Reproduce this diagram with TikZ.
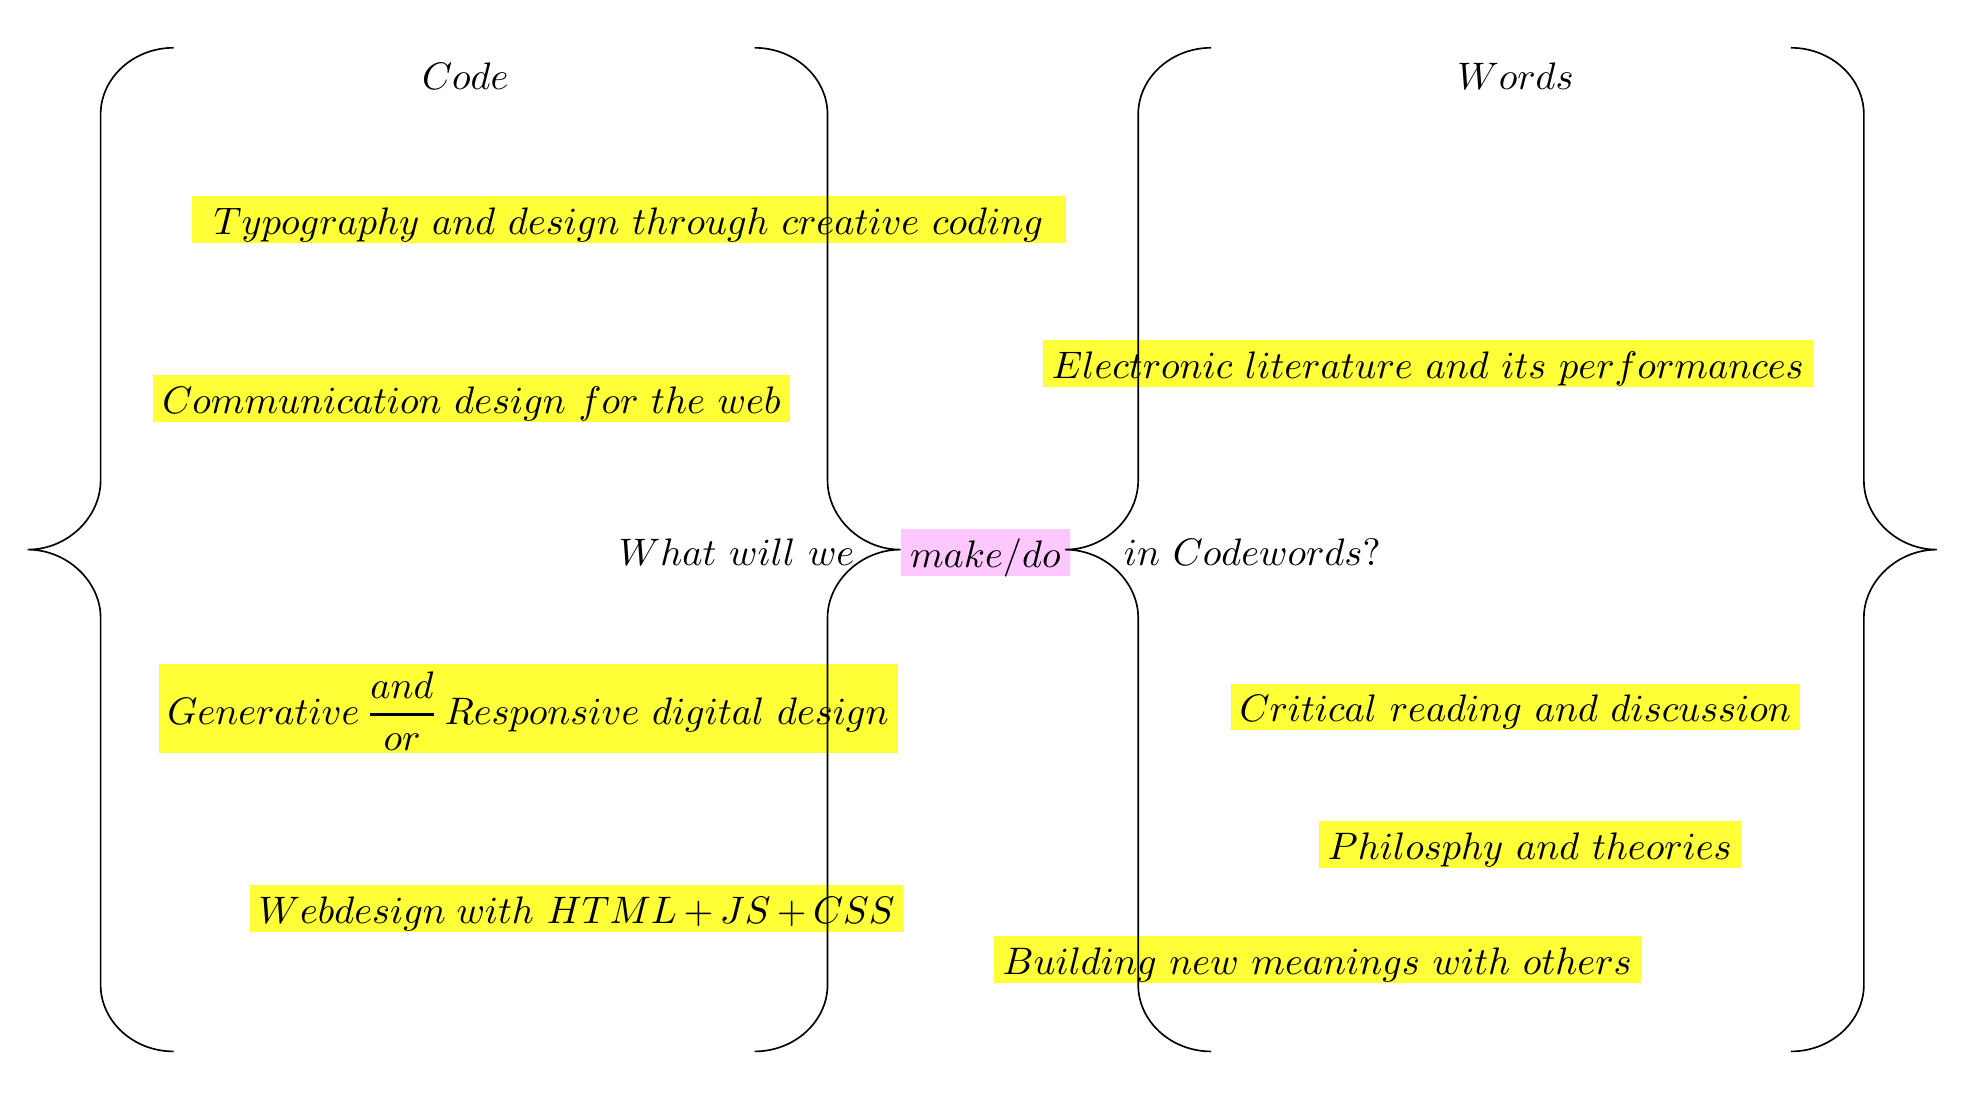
\RequirePackage{fix-cm}
\documentclass[tikz,border=0pt]{standalone}
\usepackage{amsmath}
\definecolor{hlyellow}{RGB}{255,255,56}
\definecolor{hlpink}{RGB}{255,199,255}

\begin{document}
\begin{tikzpicture}[x=0.012cm, y=-0.012cm, font=\fontsize{10.4}{12.5}\selectfont]
\tikzstyle{hl}=[fill=hlyellow, inner xsep=0.084cm, inner ysep=0pt, text height=0.366cm, text depth=0.078cm]
\tikzstyle{pinkhl}=[hl, fill=hlpink]
\tikzstyle{plain}=[inner sep=0pt]
\tikzstyle{bracket}=[line width=0.45pt]
  \useasboundingbox (0,0) rectangle (1568,874.6);

  % headings
  \node[plain, anchor=base] (code) at (370,71) {$Code$};
  \node[plain, anchor=base] (words) at (1205,71) {$Words$};

  % code side
  \node[hl, minimum width=8.33cm] (typo) at (500,174.5) {$Typography\ and\ design\ through\ creative\ coding$};
  \node[hl] (comm) at (375,317) {$Communication\ design\ for\ the\ web$};
  \node[hl, text height=0.576cm, text depth=0.276cm] (gen) at (420,563.5) {$Generative\,\genfrac{}{}{0.8pt}{0}{and}{or}\,Responsive\ digital\ design$};
  \node[hl] (web) at (458.5,722.5) {$Webdesign\;with\ HTML\,{+}\,JS\,{+}\,CSS$};

  % middle line
  \node[plain, anchor=base east] (what) at (680,450) {$What\ will\ we$};
  \node[pinkhl] (make) at (783.5,439.5) {$make/do$};
  \node[plain, anchor=base west] (cw) at (893,450) {$in\ Codewords?$};

  % words side
  \node[hl] (elit) at (1135.5,289) {$Electronic\ literature\ and\ its\ performances$};
  \node[hl] (crit) at (1205,562) {$Critical\ reading\ and\ discussion$};
  \node[hl] (phil) at (1216.5,671.5) {$Philosphy\ and\ theories$};
  \node[hl] (build) at (1047.5,763) {$Building\ new\ meanings\ with\ others$};

  % the four braces
  \foreach \v/\s in {80/-1, 658/1, 905/-1, 1482/1}
    \draw[bracket] ({\v-(\s)*58},38) .. controls ({\v-(\s)*26},38) and (\v,62) .. (\v,91)
      -- (\v,382) .. controls (\v,411) and ({\v+(\s)*26},437) .. ({\v+(\s)*58},437)
      .. controls ({\v+(\s)*26},437) and (\v,463) .. (\v,491)
      -- (\v,783) .. controls (\v,812) and ({\v-(\s)*26},836) .. ({\v-(\s)*58},836);
\end{tikzpicture}
\end{document}
